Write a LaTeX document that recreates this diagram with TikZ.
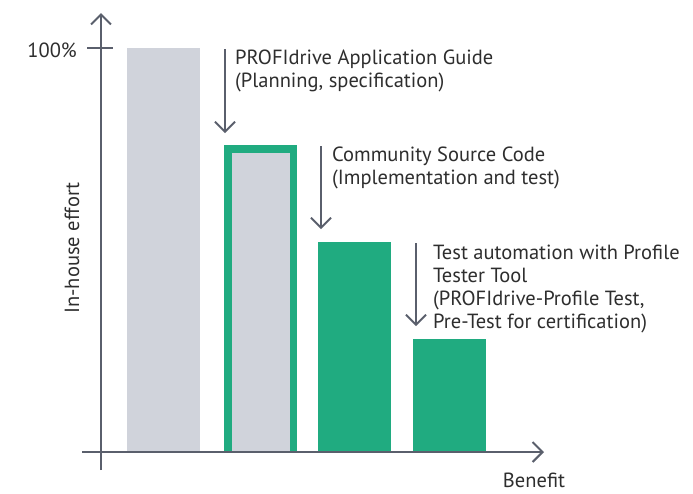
\documentclass[tikz,border=0pt]{standalone}
\usepackage{fontspec}
\setmainfont{PT Sans}
\usetikzlibrary{arrows.meta}
\definecolor{axisgray}{HTML}{5A5F6C}
\definecolor{bargray}{HTML}{D0D3DB}
\definecolor{bargreen}{HTML}{20AB80}
\definecolor{textgray}{HTML}{2E2E2E}
\begin{document}
\begin{tikzpicture}[x=1pt,y=-1pt,
    axisline/.style={draw=axisgray,line width=2pt,-{Straight Barb[length=10pt,width=20pt]}},
    stepdown/.style={draw=axisgray,line width=1.8pt,-{Straight Barb[length=10pt,width=20pt]}},
    axisname/.style={font=\fontsize{20.5}{23}\selectfont,text=textgray,inner sep=0pt},
    note/.style={font=\fontsize{20.5}{22.8}\selectfont,text=textgray,inner sep=0pt,align=left,anchor=north west}]
  \useasboundingbox (0,0) rectangle (693,493);
  % bars
  \fill[bargray] (127,48) rectangle (200,452);
  \fill[bargreen] (224,145) rectangle (297,452);
  \fill[bargray] (232,153) rectangle (290,452);
  \foreach \x/\top in {318/242,413/339}
    \fill[bargreen] (\x,\top) rectangle (\x+73,452);
  % axes
  \coordinate (ybot) at (101,470);
  \coordinate (ytip) at (101,13);
  \coordinate (xbot) at (82,452);
  \coordinate (xtip) at (544,452);
  \draw[axisline] (ybot) -- (ytip);
  \draw[axisline] (xbot) -- (xtip);
  \coordinate (tickl) at (87,48);
  \coordinate (tickr) at (113,48);
  \draw[axisgray,line width=2pt] (tickl) -- (tickr);
  \node[axisname,anchor=east] (hundred) at (77,50) {100\%};
  \node[axisname,rotate=90] (yname) at (72,248) {In-house effort};
  \node[axisname] (xname) at (534,480) {Benefit};
  % steps
  \foreach \n/\x/\a/\b in {1/225/49/133,2/321/146/229,3/416/243/326} {
    \coordinate (s\n) at (\x,\a);
    \coordinate (e\n) at (\x,\b);
    \draw[stepdown] (s\n) -- (e\n);
  }
  \node[note] (guide) at (235,50) {PROFIdrive Application Guide\\(Planning, specification)};
  \node[note] (source) at (332,147) {Community Source Code\\(Implementation and test)};
  \node[note] (tester) at (433,245) {Test automation with Profile\\Tester Tool\\(PROFIdrive-Profile Test,\\Pre-Test for certification)};
\end{tikzpicture}
\end{document}
